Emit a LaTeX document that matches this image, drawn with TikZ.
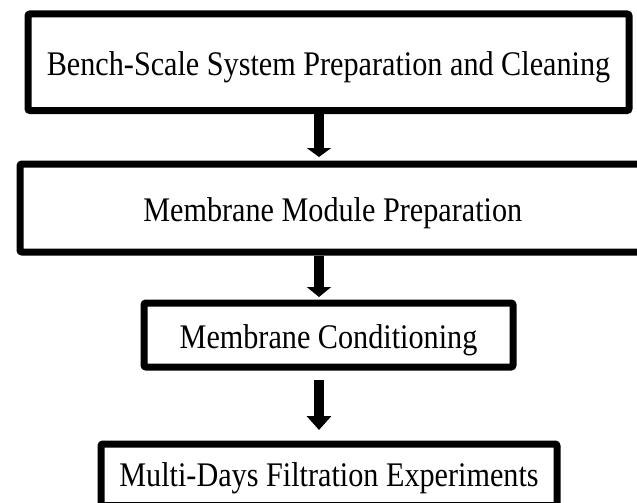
\documentclass[tikz,border=0pt]{standalone}
\usepackage{fontspec}
\setmainfont[FakeStretch=0.875]{Liberation Serif}
\usetikzlibrary{arrows.meta}
\begin{document}
\begin{tikzpicture}[x=1pt,y=-1pt,
  box/.style={draw=black, line width=7pt, rounded corners=2pt, inner sep=0pt,
    anchor=north west, fill=white, font=\fontsize{34.5}{40}\selectfont},
  arr/.style={line width=10pt, -{Triangle[width=24pt,length=#1]}},
  arr/.default=11pt]
\useasboundingbox (0,0) rectangle (637,503);
\fill[white] (0,0) rectangle (637,503);
\coordinate (axis) at (319,0);
\node[box, minimum width=601pt, text height=61.5pt, text depth=35pt] (b1) at (24.5,10.5)
  {Bench-Scale System Preparation and Cleaning};
\node[box, minimum width=625.5pt, text height=57.5pt, text depth=30.5pt] (b2) at (16.5,160.5)
  {Membrane Module Preparation};
\node[box, minimum width=369pt, text height=45.5pt, text depth=18.5pt] (b3) at (140.5,299.5)
  {Membrane Conditioning};
\node[box, minimum width=456pt, text height=42.5pt, text depth=19pt] (b4) at (97.5,440.5)
  {Multi-Days Filtration Experiments};
\draw[arr=9pt, shorten >=3.5pt] (b1.south -| axis) -- (b2.north -| axis);
\draw[arr=10pt, shorten >=2.5pt] (b2.south -| axis) -- (b3.north -| axis);
\draw[arr=14pt, shorten <=9.5pt, shorten >=10.5pt] (b3.south -| axis) -- (b4.north -| axis);
\end{tikzpicture}
\end{document}
